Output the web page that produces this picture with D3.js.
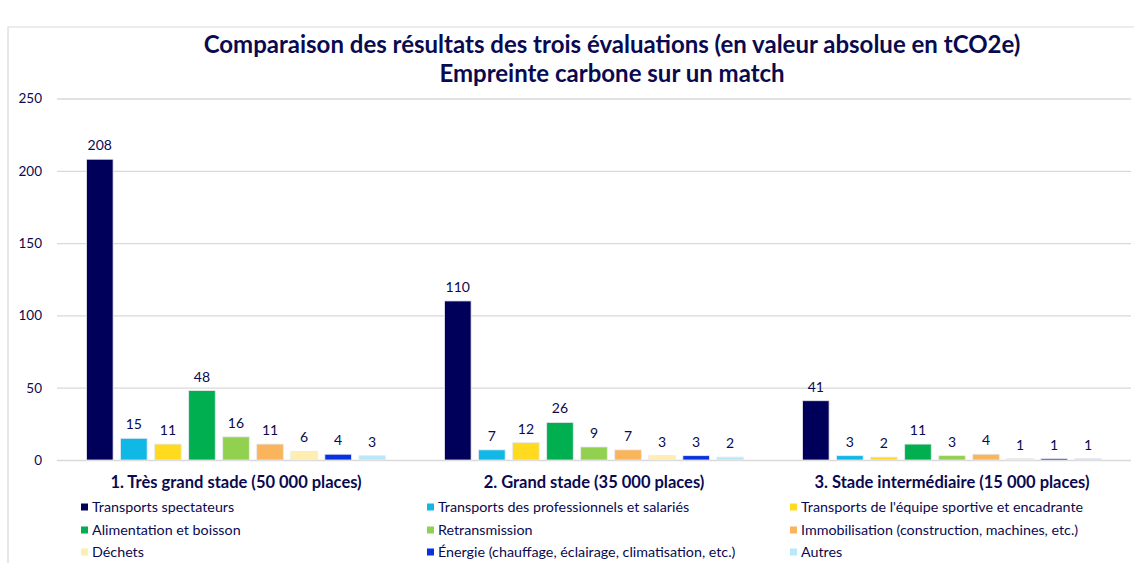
<!DOCTYPE html>
<html><head><meta charset="utf-8">
<script src="https://cdn.jsdelivr.net/npm/d3@7"></script>
<style>
html,body{margin:0;padding:0;background:#fff;}
svg{display:block;font-family:Lato,"Open Sans",sans-serif;}
</style></head><body>
<svg id="chart" width="1134" height="563"></svg>
<script>
const groups = ["1. Très grand stade (50 000 places)", "2. Grand stade (35 000 places)", "3. Stade intermédiaire (15 000 places)"];
const series = ["Transports spectateurs", "Transports des professionnels et salariés", "Transports de l'équipe sportive et encadrante",
  "Alimentation et boisson", "Retransmission", "Immobilisation (construction, machines, etc.)",
  "Déchets", "Énergie (chauffage, éclairage, climatisation, etc.)", "Autres"];
const colors = ["#00005A", "#10B8E6", "#FFDA1F", "#00AF50", "#92D050", "#F9B45C", "#FFEEB0", "#0732DE", "#B8E9FA"];
const valuesG1 = [208, 15, 11, 48, 16, 11, 6, 4, 3];
const valuesG2 = [110, 7, 12, 26, 9, 7, 3, 3, 2];
const valuesG3 = [41, 3, 2, 11, 3, 4, 1, 1, 1];
const yTicks = [0, 50, 100, 150, 200, 250];
const titleLines = ["Comparaison des résultats des trois évaluations (en valeur absolue en tCO2e)", "Empreinte carbone sur un match"];

const values = [valuesG1, valuesG2, valuesG3];
const textColor = "#0A0A50";
const svg = d3.select("#chart");

// frame
svg.append("path").attr("d", "M8,563 L8,27 L1134,27").attr("fill", "none").attr("stroke", "#d9d9d9").attr("stroke-width", 1.2);

const y = d3.scaleLinear().domain([0, 250]).range([460, 98.5]);
const x0 = d3.scaleBand().domain(groups).range([57, 1131]).paddingInner(0.165).paddingOuter(0.0825);
const x1 = d3.scaleBand().domain(series).range([0, x0.bandwidth()]).paddingInner(0.22).paddingOuter(0);
const color = d3.scaleOrdinal().domain(series).range(colors);

// title
svg.append("g").selectAll("text").data(titleLines).join("text")
  .attr("x", 612).attr("y", (d, i) => 53 + i * 29)
  .attr("text-anchor", "middle").attr("font-weight", 700).attr("font-size", 24)
  .attr("fill", textColor).text(d => d);

// grid + y axis
const yAxis = d3.axisLeft(y).tickValues(yTicks).tickSize(-(1131 - 57)).tickPadding(15);
const gy = svg.append("g").attr("transform", "translate(57,0)").call(yAxis);
gy.select(".domain").remove();
gy.selectAll(".tick line").attr("stroke", "#d9d9d9").attr("stroke-width", 1.3);
gy.selectAll(".tick text").attr("fill", textColor).attr("font-size", 13.5).attr("font-family", "Lato,sans-serif");

// bars
const gg = svg.append("g").selectAll("g").data(groups).join("g")
  .attr("transform", d => `translate(${x0(d)},0)`);
gg.selectAll("rect").data((g, gi) => series.map((s, si) => ({s, v: values[gi][si]})))
  .join("rect")
  .attr("x", d => x1(d.s)).attr("width", x1.bandwidth())
  .attr("y", d => y(d.v)).attr("height", d => y(0) - y(d.v))
  .attr("fill", d => color(d.s)).attr("stroke", "#e8e8f0").attr("stroke-width", 0.8);
gg.selectAll("text.lbl").data((g, gi) => series.map((s, si) => ({s, v: values[gi][si]})))
  .join("text").attr("class", "lbl")
  .attr("x", d => x1(d.s) + x1.bandwidth() / 2).attr("y", d => y(d.v) - 9)
  .attr("text-anchor", "middle").attr("font-size", 14).attr("fill", textColor).text(d => d.v);

// x axis labels
const xAxis = d3.axisBottom(x0).tickSize(0).tickPadding(16);
const gx = svg.append("g").attr("transform", "translate(0,460)").call(xAxis);
gx.select(".domain").remove();
gx.selectAll(".tick text").attr("fill", textColor).attr("font-size", 16.5).attr("font-weight", 700).attr("font-family", "Lato,sans-serif");

// legend
const legX = [81, 427, 790];
const legY = [512, 535, 557];
const lg = svg.append("g").selectAll("g").data(series).join("g")
  .attr("transform", (d, i) => `translate(${legX[i % 3]},${legY[Math.floor(i / 3)]})`);
lg.append("rect").attr("x", 0).attr("y", -8.5).attr("width", 7).attr("height", 7).attr("fill", d => color(d));
lg.append("text").attr("x", 11).attr("y", 0).attr("font-size", 14.3).attr("fill", textColor).text(d => d);
</script>
</body></html>
